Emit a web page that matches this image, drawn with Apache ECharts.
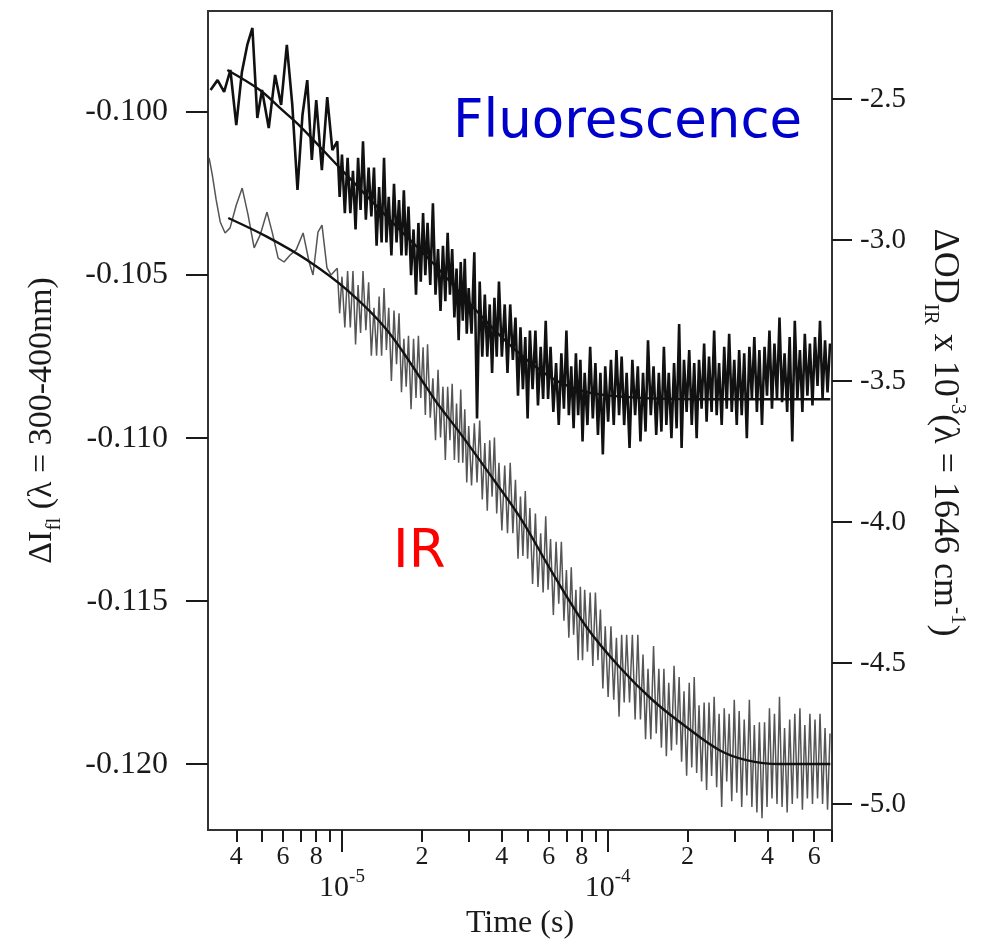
<!DOCTYPE html>
<html>
<head>
<meta charset="utf-8">
<title>Fluorescence / IR kinetics</title>
<script src="https://cdn.jsdelivr.net/npm/echarts/dist/echarts.min.js"></script>
<style>
  html, body { margin: 0; padding: 0; background: #fff; }
  #chart { width: 986px; height: 945px; }
</style>
</head>
<body>
<div id="chart"></div>
<script>
// times are in microseconds, converted to seconds when the series are built
// sampling after ~10 us, shared by both raw traces
var lateTime = [9.6, 9.8, 10, 10.25, 10.5, 10.75, 11, 11.25, 11.5, 11.75,
    12, 12.3, 12.6, 12.9, 13.2, 13.5, 13.8, 14.1, 14.4, 14.7,
    15, 15.35, 15.7, 16.05, 16.4, 16.75, 17.1, 17.45, 17.8, 18.2,
    18.6, 19, 19.4, 19.8, 20.2, 20.6, 21, 21.5, 22, 22.5,
    23, 23.5, 24, 24.5, 25, 25.5, 26, 26.5, 27, 27.5,
    28, 28.5, 29, 29.5, 30, 30.75, 31.5, 32.25, 33, 33.75,
    34.5, 35.25, 36, 36.75, 37.5, 38.25, 39, 40, 41, 42,
    43, 44, 45, 46, 47, 48, 49, 50, 51, 52.2,
    53.5, 54.7, 56, 57.2, 58.5, 59.7, 61, 62.5, 64, 65.5,
    67, 68.5, 70, 71.5, 73, 74.5, 76, 77.5, 79, 80.5,
    82, 84, 86, 88, 90, 92, 94, 96, 98, 100.5,
    103, 105.5, 108, 110.5, 113, 115.5, 118, 121, 124, 127,
    130, 133, 136, 139, 142, 145.5, 149, 152.5, 156, 159.5,
    163, 166.5, 170, 174, 178, 182, 186, 190, 194, 198.5,
    203, 207.5, 212, 216.5, 221, 226, 231, 236, 241, 246.5,
    252, 257.5, 263, 269, 275, 281, 287, 293.5, 300, 306.5,
    313, 320, 327, 334.5, 342, 349.5, 357, 365, 373, 381.5,
    390, 398.5, 407, 416, 425, 434.5, 444, 454, 464, 474.5,
    485, 496, 507, 518.5, 530, 541.5, 553, 565.5, 578, 591,
    604, 617.5, 631, 645, 659, 673.5, 688];

// ΔI fl raw trace
var fluorEarlyTime = [3.2, 3.4, 3.6, 3.8, 4.0, 4.2, 4.4, 4.6, 4.8, 5.0, 5.3, 5.6, 5.9, 6.2, 6.5, 6.8,
    7.1, 7.4, 7.7, 8.0, 8.4, 8.8, 9.2];
var fluorEarlySignal = [-0.09932, -0.09902, -0.09938, -0.09871, -0.10040, -0.09877, -0.09794, -0.09742,
    -0.10018, -0.09932, -0.10049, -0.09886, -0.09978, -0.09794, -0.09978, -0.10239, -0.10009, -0.09902,
    -0.10147, -0.09963, -0.10178, -0.09954, -0.10117];
var fluorLateSignal = [
    -0.1009, -0.1026, -0.1013, -0.1031, -0.1014, -0.1031, -0.1018, -0.1036, -0.1014, -0.1030,
    -0.1009, -0.1033, -0.1017, -0.1032, -0.1017, -0.1041, -0.1023, -0.1040, -0.1014, -0.1040,
    -0.1026, -0.1044, -0.1022, -0.1040, -0.1027, -0.1044, -0.1024, -0.1044, -0.1029, -0.1050,
    -0.1036, -0.1056, -0.1034, -0.1052, -0.1031, -0.1050, -0.1034, -0.1053, -0.1028, -0.1056,
    -0.1042, -0.1061, -0.1041, -0.1058, -0.1037, -0.1056, -0.1042, -0.1063, -0.1048, -0.1070,
    -0.1046, -0.1064, -0.1045, -0.1068, -0.1054, -0.1068, -0.1043, -0.1094, -0.1052, -0.1075,
    -0.1056, -0.1075, -0.1059, -0.1080, -0.1057, -0.1075, -0.1052, -0.1075, -0.1059, -0.1080,
    -0.1059, -0.1076, -0.1063, -0.1087, -0.1066, -0.1085, -0.1069, -0.1094, -0.1067, -0.1085,
    -0.1067, -0.1090, -0.1072, -0.1088, -0.1064, -0.1088, -0.1072, -0.1092, -0.1077, -0.1096,
    -0.1074, -0.1091, -0.1067, -0.1093, -0.1078, -0.1097, -0.1074, -0.1093, -0.1076, -0.1101,
    -0.1080, -0.1096, -0.1072, -0.1094, -0.1077, -0.1099, -0.1080, -0.1105, -0.1078, -0.1095,
    -0.1076, -0.1096, -0.1073, -0.1093, -0.1075, -0.1096, -0.1080, -0.1103, -0.1076, -0.1093,
    -0.1078, -0.1101, -0.1080, -0.1098, -0.1070, -0.1093, -0.1078, -0.1099, -0.1080, -0.1098,
    -0.1072, -0.1096, -0.1080, -0.1100, -0.1077, -0.1097, -0.1065, -0.1103, -0.1076, -0.1092,
    -0.1073, -0.1096, -0.1077, -0.1100, -0.1076, -0.1091, -0.1071, -0.1095, -0.1075, -0.1092,
    -0.1067, -0.1093, -0.1077, -0.1096, -0.1072, -0.1091, -0.1068, -0.1092, -0.1076, -0.1096,
    -0.1073, -0.1093, -0.1074, -0.1100, -0.1072, -0.1088, -0.1069, -0.1092, -0.1073, -0.1096,
    -0.1072, -0.1087, -0.1067, -0.1091, -0.1071, -0.1088, -0.1063, -0.1089, -0.1074, -0.1092,
    -0.1069, -0.1101, -0.1064, -0.1088, -0.1073, -0.1092, -0.1068, -0.1087, -0.1071, -0.1090,
    -0.1069, -0.1084, -0.1064, -0.1088, -0.1070, -0.1086, -0.1071];
// fitted curve for fluorescence
var fluorFitTime = [3.7, 4.92, 5.85, 6.95, 9.83, 14.8, 22.0, 29.5, 39.3, 50.9, 66.0, 93.3, 222, 690];
var fluorFitValue = [-0.09871, -0.09933, -0.09988, -0.10043, -0.10172, -0.10322, -0.10463, -0.10577, -0.10685,
    -0.10767, -0.10829, -0.10866, -0.10881, -0.10881];

// ΔOD IR x 10^-3 raw trace
var irEarlyTime = [3.16, 3.25, 3.36, 3.48, 3.63, 3.79, 4.0, 4.21, 4.43, 4.67, 4.92, 5.22, 5.46, 5.75, 6.05, 6.38,
    6.72, 7.14, 7.52, 7.78, 8.12, 8.41, 8.78, 9.09];
var irEarlySignal = [-2.709, -2.770, -2.858, -2.936, -2.975, -2.957, -2.876, -2.816, -2.911, -3.028, -2.982, -2.901,
    -2.972, -3.064, -3.078, -3.053, -3.035, -2.975, -3.078, -3.124, -2.972, -2.947, -3.099, -3.124];
var irLateSignal = [
    -3.10, -3.26, -3.13, -3.31, -3.11, -3.31, -3.11, -3.37, -3.16, -3.33,
    -3.11, -3.32, -3.15, -3.41, -3.24, -3.41, -3.20, -3.41, -3.17, -3.39,
    -3.24, -3.50, -3.25, -3.44, -3.26, -3.54, -3.35, -3.52, -3.34, -3.60,
    -3.35, -3.56, -3.34, -3.56, -3.38, -3.62, -3.37, -3.63, -3.49, -3.71,
    -3.46, -3.70, -3.52, -3.78, -3.52, -3.71, -3.51, -3.78, -3.58, -3.79,
    -3.53, -3.79, -3.60, -3.86, -3.66, -3.87, -3.65, -3.86, -3.64, -3.92,
    -3.72, -3.96, -3.71, -3.91, -3.70, -3.97, -3.79, -4.03, -3.80, -4.04,
    -3.79, -4.04, -3.85, -4.13, -3.91, -4.12, -3.89, -4.13, -3.95, -4.22,
    -3.97, -4.23, -4.04, -4.25, -3.98, -4.24, -4.06, -4.33, -4.07, -4.29,
    -4.07, -4.35, -4.17, -4.41, -4.16, -4.40, -4.24, -4.49, -4.23, -4.49,
    -4.24, -4.46, -4.25, -4.51, -4.25, -4.49, -4.31, -4.59, -4.37, -4.62,
    -4.37, -4.63, -4.41, -4.69, -4.40, -4.64, -4.40, -4.64, -4.40, -4.70,
    -4.40, -4.70, -4.47, -4.77, -4.52, -4.77, -4.44, -4.75, -4.52, -4.80,
    -4.52, -4.83, -4.57, -4.81, -4.51, -4.79, -4.55, -4.85, -4.60, -4.90,
    -4.57, -4.87, -4.55, -4.89, -4.65, -4.92, -4.64, -4.95, -4.64, -4.90,
    -4.62, -4.94, -4.68, -5.01, -4.66, -4.92, -4.68, -4.99, -4.63, -4.96,
    -4.67, -5.01, -4.70, -4.97, -4.63, -5.01, -4.72, -5.03, -4.71, -5.05,
    -4.71, -5.01, -4.66, -4.98, -4.68, -5.00, -4.62, -5.01, -4.73, -5.03,
    -4.70, -5.00, -4.68, -4.98, -4.66, -5.02, -4.72, -4.98, -4.68, -5.00,
    -4.70, -4.98, -4.68, -5.00, -4.73, -5.02, -4.75];
// fitted curve for IR
var irFitTime = [3.73, 5.23, 7.38, 10.44, 14.76, 20.9, 22.8, 27.8, 35.1, 46.7, 62.1, 83.3, 110.9, 147.6, 198, 264, 333, 443, 690];
var irFitValue = [-2.922, -2.989, -3.071, -3.177, -3.319, -3.525, -3.578, -3.684, -3.816, -3.982, -4.181, -4.372,
    -4.514, -4.631, -4.727, -4.809, -4.844, -4.858, -4.858];

// axis ticks (seconds / axis units)
var xMinorTicks = [4e-6, 5e-6, 6e-6, 7e-6, 8e-6, 9e-6, 2e-5, 3e-5, 4e-5, 5e-5, 6e-5, 7e-5, 8e-5, 9e-5,
    2e-4, 3e-4, 4e-4, 5e-4, 6e-4, 7e-4];
var xMinorLabels = [4e-6, 6e-6, 8e-6, 2e-5, 4e-5, 6e-5, 8e-5, 2e-4, 4e-4, 6e-4];
var xMajorTicks = [1e-5, 1e-4];
var leftTicks = [-0.120, -0.115, -0.110, -0.105, -0.100];
var rightTicks = [-5.0, -4.5, -4.0, -3.5, -3.0, -2.5];

var tMin = 3.13e-6, tMax = 7e-4;
var serif = 'Liberation Serif';
var ink = '#1a1a1a';

function pairs(t, v) {
    return t.map(function (x, i) { return [x * 1e-6, v[i]]; });
}
function lg(v) { return Math.log10(v); }

var chart = echarts.init(document.getElementById('chart'));

// shared settings for the decade overlay axes
function decadeAxis(extra) {
    var base = {
        type: 'value', position: 'bottom', min: lg(tMin), max: lg(tMax),
        axisLine: { show: false, onZero: false },
        splitLine: { show: false }
    };
    return Object.assign(base, extra);
}

chart.setOption({
    animation: false,
    backgroundColor: '#fff',
    grid: { left: 208, right: 154, top: 11, bottom: 115, show: true, borderColor: '#333', borderWidth: 2 },
    xAxis: [
        // data axis
        { type: 'log', logBase: 10, min: tMin, max: tMax, show: false },
        // minor ticks 2..9
        decadeAxis({
            axisTick: { length: 12, lineStyle: { color: ink, width: 2 }, customValues: xMinorTicks.map(lg) },
            axisLabel: {
                customValues: xMinorLabels.map(lg), margin: 14,
                fontFamily: serif, fontSize: 26, color: ink,
                formatter: function (v) { return String(Math.round(Math.pow(10, v - Math.floor(v + 1e-9)))); }
            }
        }),
        // decades
        decadeAxis({
            axisTick: { length: 22, lineStyle: { color: ink, width: 2 }, customValues: xMajorTicks.map(lg) },
            axisLabel: {
                customValues: xMajorTicks.map(lg), margin: 38, color: ink,
                formatter: function (v) { return '{a|10}{sup|' + Math.round(v) + '}'; },
                rich: {
                    a: { fontFamily: serif, fontSize: 30, lineHeight: 40, color: ink },
                    sup: { fontFamily: serif, fontSize: 19, verticalAlign: 'top', color: ink }
                }
            },
            name: 'Time (s)', nameLocation: 'middle', nameGap: 78,
            nameTextStyle: { fontFamily: serif, fontSize: 32, color: ink }
        })
    ],
    yAxis: [
        {
            type: 'value', position: 'left', min: -0.12202, max: -0.09690,
            axisLine: { show: true, onZero: false, lineStyle: { color: '#333', width: 2 } },
            axisTick: { length: 22, lineStyle: { color: ink, width: 2 }, customValues: leftTicks },
            axisLabel: {
                customValues: leftTicks, margin: 40, fontFamily: serif, fontSize: 32, color: ink,
                formatter: function (v) { return v.toFixed(3); }
            },
            splitLine: { show: false },
            name: '{a|ΔI}{sub|fl}{a| (λ = 300-400nm)}',
            nameLocation: 'middle', nameGap: 143,
            nameTextStyle: {
                color: ink,
                rich: {
                    a: { fontFamily: serif, fontSize: 34, lineHeight: 46, color: ink },
                    sub: { fontFamily: serif, fontSize: 21, verticalAlign: 'bottom', color: ink }
                }
            }
        },
        {
            type: 'value', position: 'right', min: -5.092, max: -2.188,
            axisLine: { show: true, onZero: false, lineStyle: { color: '#333', width: 2 } },
            axisTick: { length: 20, lineStyle: { color: ink, width: 2 }, customValues: rightTicks },
            axisLabel: {
                customValues: rightTicks, margin: 28, fontFamily: serif, fontSize: 29, color: ink,
                formatter: function (v) { return v.toFixed(1); }
            },
            splitLine: { show: false },
            name: '{a|ΔOD}{sub|IR}{a| x 10}{sup|-3}{a|(λ = 1646 cm}{sup|-1}{a|)}',
            nameLocation: 'middle', nameRotate: -90, nameGap: 88,
            nameTextStyle: {
                color: ink, padding: [0, 0, 0, 24],
                rich: {
                    a: { fontFamily: serif, fontSize: 36, lineHeight: 48, color: ink },
                    sub: { fontFamily: serif, fontSize: 21, verticalAlign: 'bottom', color: ink },
                    sup: { fontFamily: serif, fontSize: 21, verticalAlign: 'top', color: ink }
                }
            }
        }
    ],
    graphic: [
        { type: 'text', x: 453, y: 123, style: { text: 'Fluorescence', fill: '#0000cc', font: '53px "DejaVu Sans"', verticalAlign: 'middle' } },
        { type: 'text', x: 393, y: 553, style: { text: 'IR', fill: '#ff0000', font: '53px "DejaVu Sans"', verticalAlign: 'middle' } }
    ],
    series: [
        {
            name: 'IR', type: 'line', xAxisIndex: 0, yAxisIndex: 1,
            data: pairs(irEarlyTime, irEarlySignal).concat(pairs(lateTime, irLateSignal)),
            symbol: 'none', lineStyle: { color: '#555', width: 1.5 }, z: 2
        },
        {
            name: 'IR fit', type: 'line', xAxisIndex: 0, yAxisIndex: 1, data: pairs(irFitTime, irFitValue),
            symbol: 'none', smooth: 0.35, lineStyle: { color: '#111', width: 2.4 }, z: 3
        },
        {
            name: 'Fluorescence', type: 'line', xAxisIndex: 0, yAxisIndex: 0,
            data: pairs(fluorEarlyTime, fluorEarlySignal).concat(pairs(lateTime, fluorLateSignal)),
            symbol: 'none', lineStyle: { color: '#111', width: 2.6 }, z: 4
        },
        {
            name: 'Fluorescence fit', type: 'line', xAxisIndex: 0, yAxisIndex: 0, data: pairs(fluorFitTime, fluorFitValue),
            symbol: 'none', smooth: 0.35, lineStyle: { color: '#111', width: 2.4 }, z: 5
        }
    ]
});
</script>
</body>
</html>
